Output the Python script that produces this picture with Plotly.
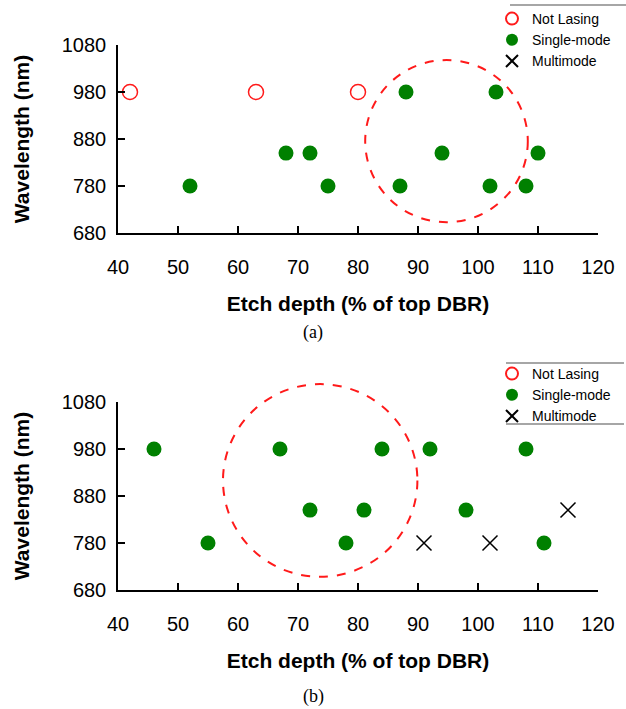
import plotly.graph_objects as go

# ---------------- data ----------------
# panel (a)
not_lasing_a_x = [42, 63, 80]
not_lasing_a_y = [980, 980, 980]
single_a_x = [52, 68, 72, 75, 87, 88, 94, 102, 103, 108, 110]
single_a_y = [780, 850, 850, 780, 780, 980, 850, 780, 980, 780, 850]
multi_a_x = [None]      # no multimode devices in (a), legend entry only
multi_a_y = [None]
# panel (b)
not_lasing_b_x = [None]  # no non-lasing devices in (b), legend entry only
not_lasing_b_y = [None]
single_b_x = [46, 55, 67, 72, 78, 81, 84, 92, 98, 108, 111]
single_b_y = [980, 780, 980, 850, 780, 850, 980, 980, 850, 980, 780]
multi_b_x = [91, 102, 115]
multi_b_y = [780, 780, 850]

# dashed ellipses (data space: x0, x1, y0, y1)
ellipse_a = [81.2, 108.3, 703, 1048]
ellipse_b = [57.5, 89.9, 708, 1118]

x_range = [40, 120]
y_range = [680, 1080]
x_ticks = [40, 50, 60, 70, 80, 90, 100, 110, 120]
y_ticks = [680, 780, 880, 980, 1080]

x_title = "Etch depth (% of top DBR)"
y_title = "Wavelength (nm)"
names = ["Not Lasing", "Single-mode", "Multimode"]
captions = ["(a)", "(b)"]

SANS = "Liberation Sans, Arial, sans-serif"
SERIF = "Liberation Serif, Times New Roman, serif"
GREEN = "#008000"
RED = "#ff1a1a"

fig = go.Figure()


def add_panel(nlx, nly, sx, sy, mx, my, xa, ya, legend):
    fig.add_trace(go.Scatter(
        x=nlx, y=nly, mode="markers", name=names[0], xaxis=xa, yaxis=ya,
        legend=legend,
        marker=dict(symbol="circle-open", size=15, color=RED,
                    line=dict(width=1.5, color=RED))))
    fig.add_trace(go.Scatter(
        x=sx, y=sy, mode="markers", name=names[1], xaxis=xa, yaxis=ya,
        legend=legend,
        marker=dict(symbol="circle", size=15, color=GREEN)))
    fig.add_trace(go.Scatter(
        x=mx, y=my, mode="markers", name=names[2], xaxis=xa, yaxis=ya,
        legend=legend,
        marker=dict(symbol="x-thin", size=15, color="black",
                    line=dict(width=1.5, color="black"))))


add_panel(not_lasing_a_x, not_lasing_a_y, single_a_x, single_a_y,
          multi_a_x, multi_a_y, "x", "y", "legend")
add_panel(not_lasing_b_x, not_lasing_b_y, single_b_x, single_b_y,
          multi_b_x, multi_b_y, "x2", "y2", "legend2")


def frac(v, r):
    return (v - r[0]) / (r[1] - r[0])


for e, xr, yr in [(ellipse_a, "x domain", "y domain"),
                  (ellipse_b, "x2 domain", "y2 domain")]:
    fig.add_shape(type="circle", xref=xr, yref=yr,
                  x0=frac(e[0], x_range), x1=frac(e[1], x_range),
                  y0=frac(e[2], y_range), y1=frac(e[3], y_range),
                  line=dict(color=RED, width=2, dash="dash"))

axis_common = dict(
    range=x_range, tickvals=x_ticks, ticks="inside", ticklen=7,
    tickwidth=1.5, tickcolor="black", showline=True, linecolor="black",
    linewidth=1.5, showgrid=False, zeroline=False,
    tickfont=dict(family=SANS, size=20, color="black"),
    ticklabelstandoff=15,
    title=dict(text="<b>" + x_title + "</b>", standoff=20,
               font=dict(family=SANS, size=21, color="black")),
)
yaxis_common = dict(
    range=y_range, tickvals=y_ticks, ticks="inside", ticklen=7,
    tickwidth=1.5, tickcolor="black", showline=True, linecolor="black",
    linewidth=1.5, showgrid=False, zeroline=False,
    tickfont=dict(family=SANS, size=20, color="black"),
    ticklabelstandoff=6,
    title=dict(text="<b>" + y_title + "</b>", standoff=26,
               font=dict(family=SANS, size=21, color="black")),
)

legend_common = dict(
    font=dict(family=SANS, size=14, color="black"),
    bgcolor="rgba(0,0,0,0)", borderwidth=0, xanchor="left", yanchor="top",
    itemsizing="constant", tracegroupgap=0,
)

fig.update_layout(
    width=626, height=709,
    margin=dict(l=118, r=28, t=45, b=119, autoexpand=False),
    paper_bgcolor="white", plot_bgcolor="white",
    xaxis=dict(axis_common, anchor="y", domain=[0, 1]),
    yaxis=dict(yaxis_common, anchor="x", domain=[0.655, 1]),
    xaxis2=dict(axis_common, anchor="y2", domain=[0, 1]),
    yaxis2=dict(yaxis_common, anchor="x2", domain=[0, 0.345]),
    legend=dict(legend_common, x=(492 - 118) / 480, y=(590 - 3) / 545),
    legend2=dict(legend_common, x=(492 - 118) / 480, y=(590 - 358) / 545),
    showlegend=True,
)

# legend rules (Excel-style lines above/below the legend)
for y_px in [5]:
    fig.add_shape(type="line", xref="paper", yref="paper",
                  x0=(510 - 118) / 480, x1=(626 - 118) / 480,
                  y0=(590 - y_px) / 545, y1=(590 - y_px) / 545,
                  line=dict(color="#888888", width=1.5))
for y_px in [363, 424]:
    fig.add_shape(type="line", xref="paper", yref="paper",
                  x0=(506 - 118) / 480, x1=(624 - 118) / 480,
                  y0=(590 - y_px) / 545, y1=(590 - y_px) / 545,
                  line=dict(color="#888888", width=1.5))

for cap, y_px in zip(captions, [332, 696]):
    fig.add_annotation(text=cap, xref="paper", yref="paper",
                       x=(313 - 118) / 480, y=(590 - y_px) / 545,
                       showarrow=False, xanchor="center", yanchor="middle",
                       font=dict(family=SERIF, size=18, color="black"))

fig.write_html(
    "out.html",
    config={"displayModeBar": False},
    post_script="document.body.style.margin='0';"
                "document.body.style.padding='0';",
)
